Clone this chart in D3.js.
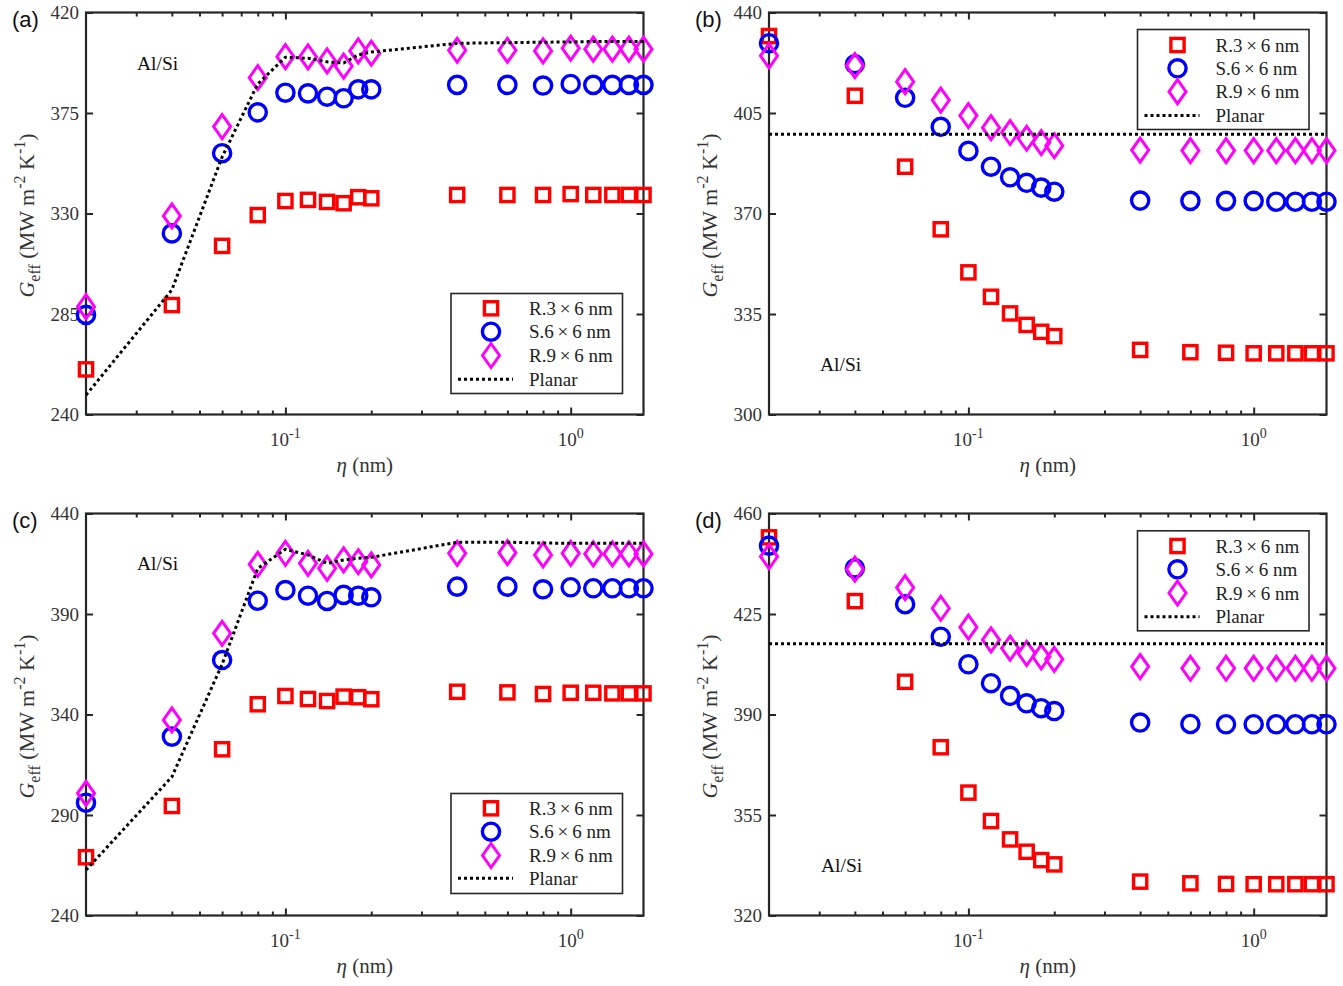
<!DOCTYPE html>
<html><head><meta charset="utf-8">
<script src="https://cdn.jsdelivr.net/npm/d3@7"></script>
<style>body{margin:0;background:#fff} svg{display:block}</style>
</head><body><svg id="fig" width="1343" height="986"></svg>
<script>
// Interfacial thermal conductance of Al/Si vs roughness parameter eta
const ETA = [0.02, 0.04, 0.06, 0.08, 0.1, 0.12, 0.14, 0.16, 0.18, 0.2, 0.4, 0.6, 0.8, 1.0, 1.2, 1.4, 1.6, 1.8];

// panel (a)
const R3_A = [260.2, 289.0, 315.5, 329.3, 335.6, 336.1, 335.2, 334.6, 337.3, 336.8, 338.3, 338.3, 338.3, 338.7, 338.3, 338.3, 338.3, 338.3];
const S6_A = [284.6, 321.1, 357.0, 375.3, 384.1, 383.8, 382.3, 381.6, 385.6, 385.6, 387.6, 387.6, 387.3, 388.0, 387.6, 387.6, 387.6, 387.6];
const R9_A = [288.3, 328.9, 368.9, 390.8, 400.2, 400.1, 398.3, 396.0, 402.8, 401.8, 403.1, 403.1, 402.8, 404.0, 403.6, 403.6, 403.6, 403.6];
const PL_A = [248.7, 295.8, 355.3, 388.0, 400.0, 399.5, 397.9, 397.4, 401.0, 402.3, 406.2, 406.5, 406.7, 406.8, 407.0, 407.0, 407.0, 407.0];

// panel (b)
const R3_B = [431.8, 411.0, 386.3, 364.5, 349.5, 341.0, 335.2, 331.2, 328.8, 327.3, 322.5, 321.7, 321.5, 321.3, 321.3, 321.3, 321.3, 321.3];
const S6_B = [429.3, 422.0, 410.3, 400.2, 391.8, 386.3, 382.6, 380.7, 379.0, 377.6, 374.5, 374.4, 374.4, 374.4, 374.1, 374.1, 374.1, 374.1];
const R9_B = [424.9, 421.5, 415.9, 409.5, 404.1, 399.9, 398.2, 396.2, 394.7, 393.6, 392.1, 391.9, 391.9, 391.9, 391.9, 391.9, 391.9, 391.9];
const PL_B = ETA.map(() => 397.6);

// panel (c)
const R3_C = [269.0, 294.5, 322.7, 345.1, 349.2, 347.7, 346.7, 348.9, 348.6, 347.6, 351.3, 351.0, 350.2, 350.8, 350.8, 350.5, 350.5, 350.5];
const S6_C = [296.1, 329.0, 367.1, 396.6, 401.9, 399.1, 396.5, 399.5, 399.1, 398.3, 403.6, 403.6, 402.3, 403.3, 402.8, 402.8, 402.8, 402.8];
const R9_C = [300.8, 337.3, 380.4, 414.7, 420.2, 415.2, 412.7, 416.9, 416.0, 414.4, 420.2, 420.5, 419.4, 420.2, 419.9, 419.9, 419.9, 419.9];
const PL_C = [262.6, 309.0, 365.0, 412.7, 422.2, 419.4, 415.2, 416.9, 417.7, 418.2, 425.7, 425.7, 425.3, 425.2, 425.2, 425.2, 425.2, 425.2];

// panel (d)
const R3_D = [451.7, 429.5, 401.4, 378.6, 362.8, 352.9, 346.5, 342.2, 339.3, 337.8, 331.8, 331.2, 331.0, 330.9, 330.9, 330.9, 330.9, 330.9];
const S6_D = [448.8, 440.9, 428.4, 417.1, 407.5, 400.9, 396.5, 393.9, 392.2, 391.2, 387.2, 386.7, 386.6, 386.6, 386.6, 386.6, 386.6, 386.6];
const R9_D = [445.0, 440.6, 434.2, 427.0, 420.4, 416.0, 413.1, 411.3, 410.1, 409.2, 406.7, 406.1, 406.1, 406.1, 406.1, 406.1, 406.1, 406.1];
const PL_D = ETA.map(() => 414.6);

// axis ticks
const Y_TICKS_A = [240, 285, 330, 375, 420];
const Y_TICKS_B = [300, 335, 370, 405, 440];
const Y_TICKS_C = [240, 290, 340, 390, 440];
const Y_TICKS_D = [320, 355, 390, 425, 460];
const X_MAJOR = [0.1, 1];
const X_MAJOR_EXP = ["-1", "0"];
const X_MINOR = [0.03, 0.04, 0.05, 0.06, 0.07, 0.08, 0.09, 0.2, 0.3, 0.4, 0.5, 0.6, 0.7, 0.8, 0.9];
const X_DOMAIN = [0.02, 1.8];

const SERIES_NAMES = ["R.3\u2009\u00d7\u20096 nm", "S.6\u2009\u00d7\u20096 nm", "R.9\u2009\u00d7\u20096 nm", "Planar"];
const PANEL_TAGS = ["(a)", "(b)", "(c)", "(d)"];
const MATERIAL = "Al/Si";

const COLORS = ["#ff0000", "#0000ff", "#ff00ff"];
const SHAPES = ["square", "circle", "diamond"];
const AXIS_COLOR = "#262626";
const SERIF = "'Liberation Serif','Times New Roman',serif";
const SANS = "'Liberation Sans',Arial,sans-serif";

const panels = [
  { tag: 0, yDomain: [240, 420], yTicks: Y_TICKS_A, series: [R3_A, S6_A, R9_A], planar: PL_A,
    box: { l: 86, r: 643.5, t: 12.5, b: 414.5 }, legend: { x: 451, y: 293.5, rows: [308.3, 331.7, 355.5, 379.3] },
    note: { x: 137, y: 70 } },
  { tag: 1, yDomain: [300, 440], yTicks: Y_TICKS_B, series: [R3_B, S6_B, R9_B], planar: PL_B,
    box: { l: 769, r: 1326.5, t: 12.5, b: 414.5 }, legend: { x: 1137.5, y: 29.5, rows: [45, 68.3, 91.7, 115.5] },
    note: { x: 820, y: 371 } },
  { tag: 2, yDomain: [240, 440], yTicks: Y_TICKS_C, series: [R3_C, S6_C, R9_C], planar: PL_C,
    box: { l: 86, r: 643.5, t: 513.5, b: 915.5 }, legend: { x: 451, y: 793.5, rows: [808.3, 831.7, 855.5, 878.3] },
    note: { x: 137, y: 570 } },
  { tag: 3, yDomain: [320, 460], yTicks: Y_TICKS_D, series: [R3_D, S6_D, R9_D], planar: PL_D,
    box: { l: 769, r: 1326.5, t: 513.5, b: 915.5 }, legend: { x: 1137.5, y: 530.8, rows: [546, 569.3, 593, 616.7] },
    note: { x: 821, y: 872 } }
];

const svg = d3.select("#fig");

function marker(g, shape, color, cx, cy) {
  if (shape === "square") {
    const s = 13.2;
    g.append("rect").attr("x", cx - s / 2).attr("y", cy - s / 2).attr("width", s).attr("height", s)
      .attr("fill", "none").attr("stroke", color).attr("stroke-width", 3.4);
  } else if (shape === "circle") {
    g.append("circle").attr("cx", cx).attr("cy", cy).attr("r", 8.6)
      .attr("fill", "none").attr("stroke", color).attr("stroke-width", 3.4);
  } else {
    const hw = 8.5, hh = 12;
    g.append("path").attr("d", `M${cx},${cy - hh}L${cx + hw},${cy}L${cx},${cy + hh}L${cx - hw},${cy}Z`)
      .attr("fill", "none").attr("stroke", color).attr("stroke-width", 3).attr("stroke-linejoin", "miter");
  }
}

panels.forEach(p => {
  const { l, r, t, b } = p.box;
  const x = d3.scaleLog().domain(X_DOMAIN).range([l, r]);
  const y = d3.scaleLinear().domain(p.yDomain).range([b, t]);
  const g = svg.append("g");

  // ticks (inward) on all four sides
  const styleAxis = sel => {
    sel.select(".domain").remove();
    sel.selectAll(".tick line").attr("stroke", AXIS_COLOR).attr("stroke-width", 2);
    sel.selectAll(".tick text").attr("fill", "#333").attr("font-family", SERIF).attr("font-size", 19);
  };
  g.append("g").attr("transform", `translate(${l},0)`)
    .call(d3.axisLeft(y).tickValues(p.yTicks).tickSizeInner(-7).tickSizeOuter(0).tickPadding(7))
    .call(styleAxis);
  g.append("g").attr("transform", `translate(${r},0)`)
    .call(d3.axisRight(y).tickValues(p.yTicks).tickSizeInner(-7).tickSizeOuter(0).tickFormat(""))
    .call(styleAxis);
  [[b, d3.axisBottom], [t, d3.axisTop]].forEach(([yy, ax]) => {
    g.append("g").attr("transform", `translate(0,${yy})`)
      .call(ax(x).tickValues(X_MAJOR).tickSizeInner(-7).tickSizeOuter(0).tickFormat(""))
      .call(styleAxis);
    g.append("g").attr("transform", `translate(0,${yy})`)
      .call(ax(x).tickValues(X_MINOR).tickSizeInner(-4).tickSizeOuter(0).tickFormat(""))
      .call(styleAxis);
  });

  // frame
  g.append("rect").attr("x", l).attr("y", t).attr("width", r - l).attr("height", b - t)
    .attr("fill", "none").attr("stroke", AXIS_COLOR).attr("stroke-width", 2.2);

  // x tick labels 10^n
  X_MAJOR.forEach((v, i) => {
    const tx = g.append("text").attr("x", x(v)).attr("y", b + 31).attr("text-anchor", "middle")
      .attr("font-family", SERIF).attr("font-size", 19).attr("fill", "#333");
    tx.append("tspan").text("10");
    tx.append("tspan").attr("dy", -8).attr("font-size", 14).text(X_MAJOR_EXP[i]);
  });

  // axis titles
  const xt = g.append("text").attr("x", (l + r) / 2).attr("y", b + 57).attr("text-anchor", "middle")
    .attr("font-family", SERIF).attr("font-size", 21).attr("fill", "#333");
  xt.append("tspan").attr("font-style", "italic").text("\u03b7");
  xt.append("tspan").text(" (nm)");

  const yt = g.append("text").attr("transform", `translate(${l - 52},${(t + b) / 2 + 2}) rotate(-90)`)
    .attr("text-anchor", "middle").attr("font-family", SERIF).attr("font-size", 22).attr("fill", "#333");
  yt.append("tspan").attr("font-style", "italic").text("G");
  yt.append("tspan").attr("dy", 6).attr("font-size", 16).text("eff");
  yt.append("tspan").attr("dy", -6).text(" (MW m");
  yt.append("tspan").attr("dy", -9).attr("font-size", 16).text("-2");
  yt.append("tspan").attr("dy", 9).text(" K");
  yt.append("tspan").attr("dy", -9).attr("font-size", 16).text("-1");
  yt.append("tspan").attr("dy", 9).text(")");

  // markers
  p.series.forEach((vals, si) => {
    const sg = g.append("g");
    vals.forEach((v, i) => marker(sg, SHAPES[si], COLORS[si], x(ETA[i]), y(v)));
  });

  // planar reference
  const line = d3.line().x((d, i) => x(ETA[i])).y(d => y(d));
  g.append("path").datum(p.planar).attr("d", line).attr("fill", "none")
    .attr("stroke", "#000").attr("stroke-width", 3).attr("stroke-dasharray", "3,3");

  // legend
  const L = p.legend;
  const lg = g.append("g");
  lg.append("rect").attr("x", L.x).attr("y", L.y).attr("width", 171.5).attr("height", 100)
    .attr("fill", "#fff").attr("stroke", AXIS_COLOR).attr("stroke-width", 1.6);
  SERIES_NAMES.forEach((name, i) => {
    const ry = L.rows[i];
    if (i < 3) marker(lg, SHAPES[i], COLORS[i], L.x + 40, ry);
    else lg.append("line").attr("x1", L.x + 7).attr("x2", L.x + 62).attr("y1", ry).attr("y2", ry)
      .attr("stroke", "#000").attr("stroke-width", 3).attr("stroke-dasharray", "3,3");
    lg.append("text").attr("x", L.x + 78).attr("y", ry + 6.5).attr("font-family", SERIF)
      .attr("font-size", 19).attr("fill", "#222").text(name);
  });

  // material label and panel tag
  g.append("text").attr("x", p.note.x).attr("y", p.note.y).attr("font-family", SERIF)
    .attr("font-size", 19.5).attr("fill", "#111").text(MATERIAL);
  g.append("text").attr("x", l - 74).attr("y", t + 14).attr("font-family", SANS)
    .attr("font-size", 22).attr("fill", "#111").text(PANEL_TAGS[p.tag]);
});
</script></body></html>
